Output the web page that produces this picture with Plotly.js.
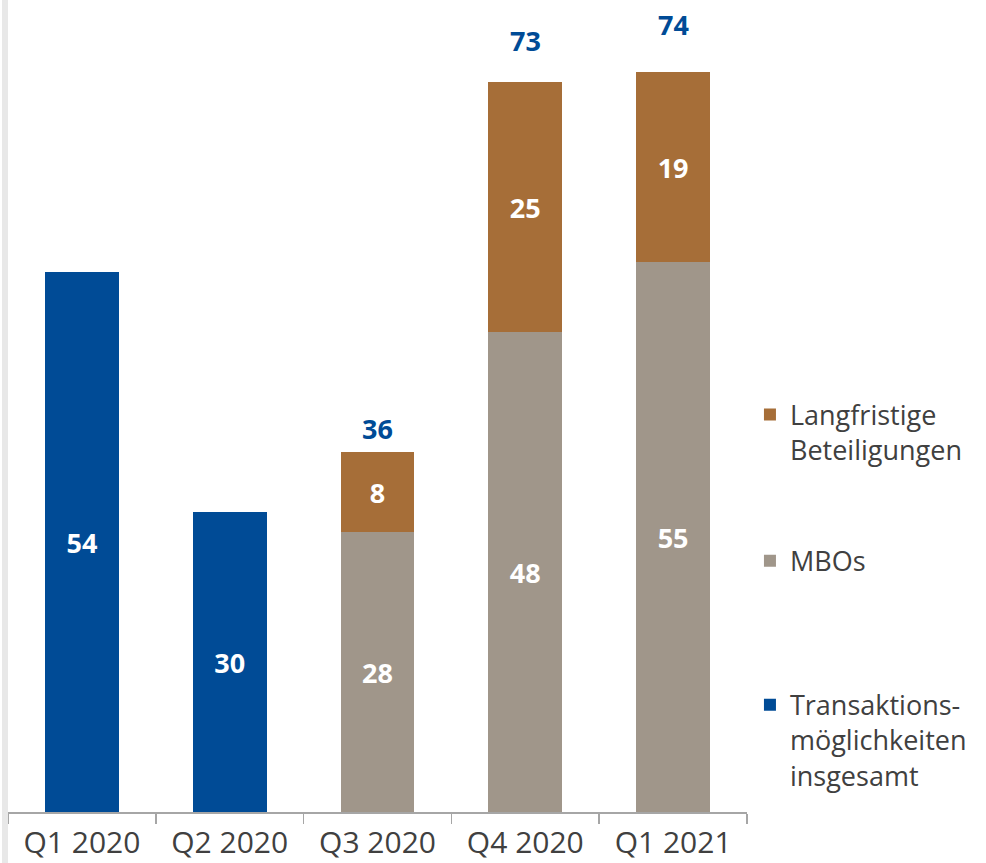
<!DOCTYPE html>
<html>
<head>
<meta charset="utf-8">
<script src="https://cdn.plot.ly/plotly-3.0.1.min.js"></script>
<style>
  html, body { margin: 0; padding: 0; background: #ffffff; }
  #chart { width: 986px; height: 863px; }
  .strip { position: absolute; left: 2px; top: 0; width: 6px; height: 863px; background: #e8e8e8; z-index: 5; }
</style>
</head>
<body>
<div class="strip"></div>
<div id="chart"></div>
<script>
const quarters = ["Q1 2020", "Q2 2020", "Q3 2020", "Q4 2020", "Q1 2021"];
const totalOpps = [54, 30, null, null, null];
const mbos = [null, null, 28, 48, 55];
const longTerm = [null, null, 8, 25, 19];
const totals = [null, null, 36, 73, 74];

const colors = {
  blue: "#004b96",
  gray: "#a0968a",
  brown: "#a66e38",
  text: "#404040",
  axis: "#a6a6a6",
};

const font = "'Open Sans', 'DejaVu Sans', sans-serif";
const barText = { family: font, size: 27, color: "#ffffff", weight: "bold" };

function barTrace(name, values, color, legend) {
  return {
    type: "bar",
    name,
    x: quarters,
    y: values,
    marker: { color },
    text: values.map((v) => (v == null ? "" : String(v))),
    textposition: "inside",
    insidetextanchor: "middle",
    constraintext: "none",
    textfont: barText,
    legend,
    hoverinfo: "x+y+name",
  };
}

const traces = [
  barTrace("Transaktions-<br>möglichkeiten<br>insgesamt", totalOpps, colors.blue, "legend3"),
  barTrace("MBOs", mbos, colors.gray, "legend2"),
  barTrace("Langfristige<br>Beteiligungen", longTerm, colors.brown, "legend"),
];

// gap between bar top and total label (px)
const totalShift = [0, 0, 3, 21, 27];
const annotations = totals
  .map((t, i) => (t == null ? null : {
    x: quarters[i],
    y: t,
    text: "<b>" + t + "</b>",
    showarrow: false,
    yanchor: "bottom",
    yshift: totalShift[i],
    font: { family: font, size: 27, color: colors.blue },
  }))
  .filter(Boolean);

const legendBase = {
  x: 1.004,
  xanchor: "left",
  yanchor: "top",
  valign: "top",
  bgcolor: "rgba(0,0,0,0)",
  font: { family: font, size: 27, color: colors.text },
  itemclick: false,
};

const layout = {
  width: 986,
  height: 863,
  margin: { l: 8, r: 239, t: 12, b: 51 },
  paper_bgcolor: "#ffffff",
  plot_bgcolor: "#ffffff",
  barmode: "stack",
  bargap: 0.5,
  showlegend: true,
  legend: { ...legendBase, y: 0.527 },
  legend2: { ...legendBase, y: 0.344 },
  legend3: { ...legendBase, y: 0.164 },
  xaxis: {
    type: "category",
    range: [-0.5, 4.5],
    showline: true,
    linecolor: colors.axis,
    linewidth: 1.5,
    ticks: "outside",
    tickson: "boundaries",
    ticklen: 10,
    tickcolor: colors.axis,
    tickwidth: 1.5,
    ticklabelstandoff: 3,
    tickfont: { family: font, size: 30, color: colors.text },
    showgrid: false,
    zeroline: false,
  },
  yaxis: {
    range: [0, 80],
    visible: false,
    showgrid: false,
    zeroline: false,
  },
  annotations,
};

Plotly.newPlot("chart", traces, layout, { displayModeBar: false, staticPlot: true });
</script>
</body>
</html>
